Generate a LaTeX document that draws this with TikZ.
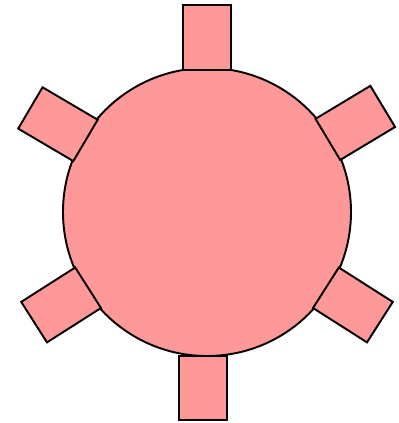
\documentclass[tikz,border=0pt]{standalone}
\definecolor{gearpink}{HTML}{FF9999}
\tikzset{gearpart/.style={fill=gearpink,draw=black,line width=1.1pt,line join=miter}}
\begin{document}
\begin{tikzpicture}[x=0.02cm,y=0.02cm]
\useasboundingbox (0,0) rectangle (399,423);
\coordinate (c) at (207,211);
\draw[gearpart] (c) circle (144);
\begin{scope}[shift={(c)}]
\draw[gearpart] (-24,142) rectangle (24,207);
\foreach \r in {-59,59.5,-122.5,122.5}{
  \draw[gearpart,rotate=\r] (-24,141) rectangle (24,205);
}
\end{scope}
\draw[gearpart] (179,3) rectangle (227,67);
\end{tikzpicture}
\end{document}
